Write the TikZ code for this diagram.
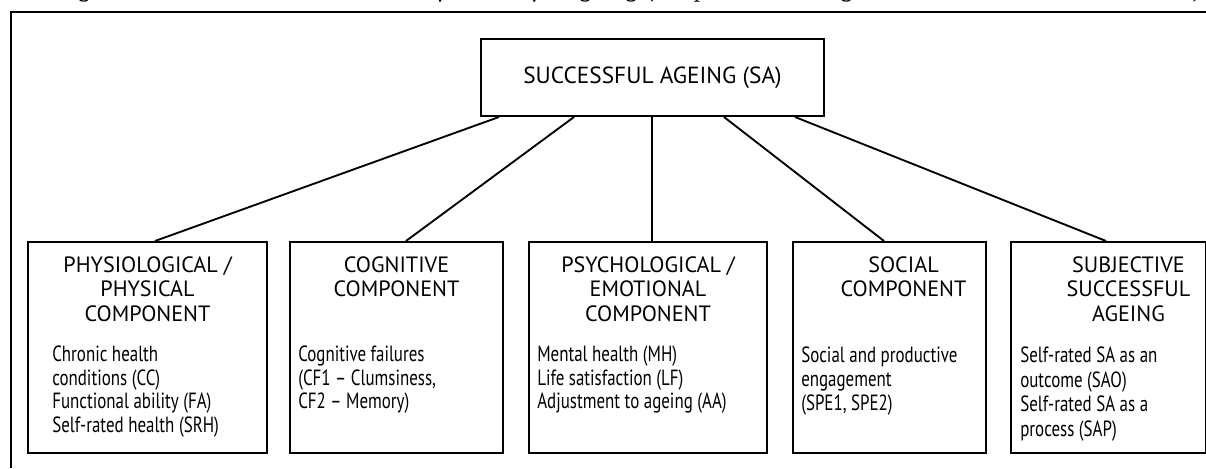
\documentclass[tikz,border=0pt]{standalone}
\usepackage{fontspec}
\usepackage{graphicx}
\setmainfont{PT Sans}
\newfontfamily\bodyfont{PT Sans}[FakeStretch=0.77]
\newfontfamily\capfont{Liberation Serif}
\begin{document}
\begin{tikzpicture}[x=0.75pt,y=-0.75pt,
  frame/.style={line width=1pt},
  bx/.style={draw, line width=1.5pt, inner sep=0pt, anchor=north west, minimum height=211*0.75pt},
  topbox/.style={draw, line width=1.5pt, inner sep=0pt, anchor=north west, minimum width=343*0.75pt, minimum height=77*0.75pt, font=\fontsize{17.5pt}{20pt}\selectfont},
  hd/.style={anchor=base, inner sep=0pt, font=\fontsize{16.6pt}{19pt}\selectfont},
  bd/.style={anchor=base west, inner sep=0pt, font=\bodyfont\fontsize{16.5pt}{18pt}\selectfont},
  link/.style={line width=1.4pt}]
\useasboundingbox (0,0) rectangle (1206,468);
\begin{scope}
\clip (0,0) rectangle (1206,468);
\node[anchor=base west, inner sep=0pt] (cap) at (3,-4) {\resizebox{1200\dimexpr 0.75pt\relax}{!}{\capfont\itshape An integrative multidimensional model of successful ageing (adapted according to Tucak Junaković et al., 2021)}};
\end{scope}
\coordinate (fl) at (11,468);
\coordinate (ftl) at (11,12);
\coordinate (ftr) at (1206,12);
\draw[frame] (fl) -- (ftl) -- (ftr);

\node[topbox] (sa) at (480,38) {SUCCESSFUL AGEING (SA)};

\node[bx, minimum width=239*0.75pt] (b1) at (27,241) {};
\node[bx, minimum width=213*0.75pt] (b2) at (289,241) {};
\node[bx, minimum width=238*0.75pt] (b3) at (528,241) {};
\node[bx, minimum width=193*0.75pt] (b4) at (792,241) {};
\node[bx, minimum width=195*0.75pt] (b5) at (1010,241) {};

% headings
\node[hd] (h1a) at ([shift={(0,31)}]b1.north) {PHYSIOLOGICAL /};
\node[hd] (h1b) at ([shift={(0,55.5)}]b1.north) {PHYSICAL};
\node[hd] (h1c) at ([shift={(0,80)}]b1.north) {COMPONENT};
\node[hd] (h2a) at ([shift={(0,31)}]b2.north) {COGNITIVE};
\node[hd] (h2b) at ([shift={(0,55.5)}]b2.north) {COMPONENT};
\node[hd] (h3a) at ([shift={(0,31)}]b3.north) {PSYCHOLOGICAL /};
\node[hd] (h3b) at ([shift={(0,55.5)}]b3.north) {EMOTIONAL};
\node[hd] (h3c) at ([shift={(0,80)}]b3.north) {COMPONENT};
\node[hd] (h4a) at ([shift={(14,31)}]b4.north) {SOCIAL};
\node[hd] (h4b) at ([shift={(14,55.5)}]b4.north) {COMPONENT};
\node[hd] (h5a) at ([shift={(20,31)}]b5.north) {SUBJECTIVE};
\node[hd] (h5b) at ([shift={(20,55.5)}]b5.north) {SUCCESSFUL};
\node[hd] (h5c) at ([shift={(20,80)}]b5.north) {AGEING};

% body lines
\node[bd] (t1a) at ([shift={(25,120.5)}]b1.north west) {Chronic health};
\node[bd] (t1b) at ([shift={(25,144)}]b1.north west) {conditions (CC)};
\node[bd] (t1c) at ([shift={(25,167.5)}]b1.north west) {Functional ability (FA)};
\node[bd] (t1d) at ([shift={(25,191)}]b1.north west) {Self-rated health (SRH)};

\node[bd] (t2a) at ([shift={(9,120.5)}]b2.north west) {Cognitive failures};
\node[bd] (t2b) at ([shift={(9,144)}]b2.north west) {(CF1 – Clumsiness,};
\node[bd] (t2c) at ([shift={(9,167.5)}]b2.north west) {CF2 – Memory)};

\node[bd] (t3a) at ([shift={(9,120.5)}]b3.north west) {Mental health (MH)};
\node[bd] (t3b) at ([shift={(9,144)}]b3.north west) {Life satisfaction (LF)};
\node[bd] (t3c) at ([shift={(9,167.5)}]b3.north west) {Adjustment to ageing (AA)};

\node[bd] (t4a) at ([shift={(9,121.5)}]b4.north west) {Social and productive};
\node[bd] (t4b) at ([shift={(9,145.5)}]b4.north west) {engagement};
\node[bd] (t4c) at ([shift={(9,169.5)}]b4.north west) {(SPE1, SPE2)};

\node[bd] (t5a) at ([shift={(10,121.5)}]b5.north west) {Self-rated SA as an};
\node[bd] (t5b) at ([shift={(10,146)}]b5.north west) {outcome (SAO)};
\node[bd] (t5c) at ([shift={(10,170.5)}]b5.north west) {Self-rated SA as a};
\node[bd] (t5d) at ([shift={(10,195)}]b5.north west) {process (SAP)};

\draw[link] ([shift={(19,0)}]sa.south west) -- ([shift={(128,0)}]b1.north west);
\draw[link] ([shift={(94,0)}]sa.south west) -- ([shift={(117,0)}]b2.north west);
\draw[link] ([shift={(172,0)}]sa.south west) -- ([shift={(124,0)}]b3.north west);
\draw[link] ([shift={(244,0)}]sa.south west) -- ([shift={(92,0)}]b4.north west);
\draw[link] ([shift={(315,0)}]sa.south west) -- ([shift={(96,0)}]b5.north west);
\end{tikzpicture}
\end{document}
